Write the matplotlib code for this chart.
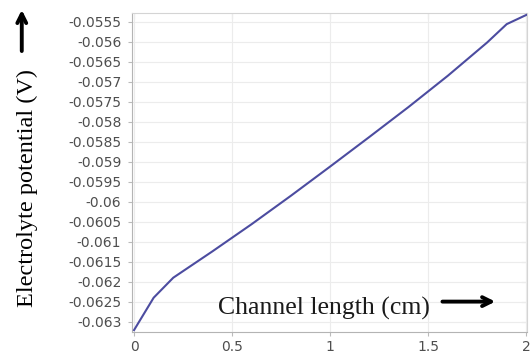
import numpy as np
import matplotlib.pyplot as plt
from matplotlib.patches import FancyArrowPatch

# channel position (cm) and electrolyte potential (V)
channel_len = [0.0, 0.1, 0.2, 0.4, 0.6, 0.8, 1.0, 1.2, 1.4, 1.6, 1.8, 1.9, 2.0]
potential = [-0.06321, -0.06240, -0.06190, -0.06124, -0.06056, -0.05985,
             -0.05912, -0.05838, -0.05763, -0.05685, -0.05602, -0.05556, -0.05533]

y_ticks = [-0.063, -0.0625, -0.062, -0.0615, -0.061, -0.0605, -0.06, -0.0595,
           -0.059, -0.0585, -0.058, -0.0575, -0.057, -0.0565, -0.056, -0.0555]
y_tick_labels = ['-0.063', '-0.0625', '-0.062', '-0.0615', '-0.061', '-0.0605', '-0.06',
                 '-0.0595', '-0.059', '-0.0585', '-0.058', '-0.0575', '-0.057',
                 '-0.0565', '-0.056', '-0.0555']
x_ticks = [0, 0.5, 1, 1.5, 2]
x_tick_labels = ['0', '0.5', '1', '1.5', '2']

fig = plt.figure(figsize=(5.31, 3.54), dpi=100)
ax = fig.add_axes([0.248, 0.063, 0.745, 0.901])

ax.plot(channel_len, potential, color='#4c4ca0', lw=1.5, zorder=3)

ax.set_xlim(-0.012, 2.005)
ax.set_ylim(-0.06325, -0.055275)
ax.set_xticks(x_ticks)
ax.set_xticklabels(x_tick_labels)
ax.set_yticks(y_ticks)
ax.set_yticklabels(y_tick_labels)
ax.grid(True, color='#ececec', lw=0.8)
ax.set_axisbelow(True)

tick_col = '#4e4e4e'
ax.tick_params(axis='both', colors='#bbbbbb', length=3, width=0.8,
               labelcolor=tick_col, labelsize=10)
ax.tick_params(axis='y', pad=4.5)
ax.tick_params(axis='x', pad=3)
for side in ['left', 'bottom']:
    ax.spines[side].set_color('#b4b4b4')
for side in ['top', 'right']:
    ax.spines[side].set_color('#d4d4d4')

# inward ticks on the top and right edges
sec_x = ax.secondary_xaxis('top')
sec_x.set_xticks(x_ticks)
sec_x.set_xticklabels([])
sec_x.tick_params(direction='in', length=4, colors='#c8c8c8')
sec_x.spines['top'].set_visible(False)
sec_y = ax.secondary_yaxis('right')
sec_y.set_yticks(y_ticks)
sec_y.set_yticklabels([])
sec_y.tick_params(direction='in', length=4, colors='#c8c8c8')
sec_y.spines['right'].set_visible(False)

serif = 'Liberation Serif'
fig.text(0.0525, 0.468, 'Electrolyte potential (V)', rotation=90, ha='center',
         va='center', fontsize=17.5, family=serif, color='black')
fig.add_artist(FancyArrowPatch(
    (0.041, 0.848), (0.041, 0.98), transform=fig.transFigure,
    arrowstyle='->', mutation_scale=16, lw=2.8, color='black'))

fig.text(0.41, 0.11, 'Channel length (cm)', ha='left', va='baseline',
         fontsize=18.5, family=serif, color='#1a1a1a')
fig.add_artist(FancyArrowPatch(
    (0.828, 0.148), (0.938, 0.148), transform=fig.transFigure,
    arrowstyle='->', mutation_scale=16, lw=2.8, color='black'))

fig.savefig('out.png', dpi=100)
